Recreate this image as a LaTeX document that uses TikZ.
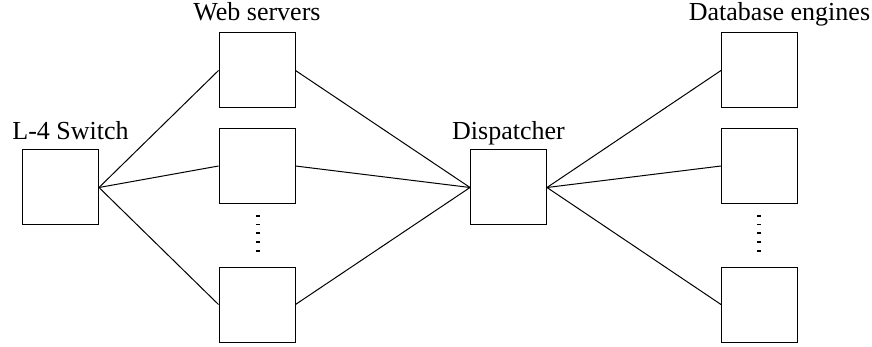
\documentclass[tikz,border=0pt]{standalone}
\usepackage{fontspec}
\setmainfont{Liberation Serif}
\usetikzlibrary{positioning}
\tikzset{box/.style={draw,line width=0.5pt,minimum width=38pt,minimum height=37.5pt,inner sep=0pt},
         lbl/.style={anchor=base,inner sep=0pt,font=\fontsize{13}{15.6}\selectfont}}

\begin{document}
\begin{tikzpicture}[x=0.5pt,y=-0.5pt,line width=0.5pt]
            \useasboundingbox (0,0) rectangle (872,347);
            \node[box] (sw) at (60.5,187.5) {}; %switch
            \node[box] (web1) at (257,70.5) {};
            \node[box] (web2) at (257,166) {};
            \node[box] (webn) at (257,304.5) {};
            \node[box] (disp) at (508.5,187.5) {};
            \node[box] (db1) at (759.5,70.5) {};
            \node[box] (db2) at (759.5,166) {};
            \node[box] (dbn) at (759.5,304.5) {};
            \node[lbl] (swl) at ([xshift=5pt,yshift=5pt]sw.north) {L-4 Switch};
            \node[lbl] (webl) at ([yshift=6pt]web1.north) {Web servers};
            \node[lbl] (displ) at ([yshift=5pt]disp.north) {Dispatcher};
            \node[lbl] (dbl) at ([xshift=10pt,yshift=6pt]db1.north) {Database engines};
            \foreach \w in {web1,web2,webn} {
              \draw (sw.east) -- (\w.west);
              \draw (\w.east) -- (disp.west);
            }
            \foreach \d in {db1,db2,dbn}
              \draw (disp.east) -- (\d.west);
            % vertical dots
            \foreach \i in {0,...,4} {
              \fill (256,215+8.7*\i) rectangle ++(4,1.8);
              \fill (756.5,215+8.7*\i) rectangle ++(4,1.8);
            }
\end{tikzpicture}
\end{document}
